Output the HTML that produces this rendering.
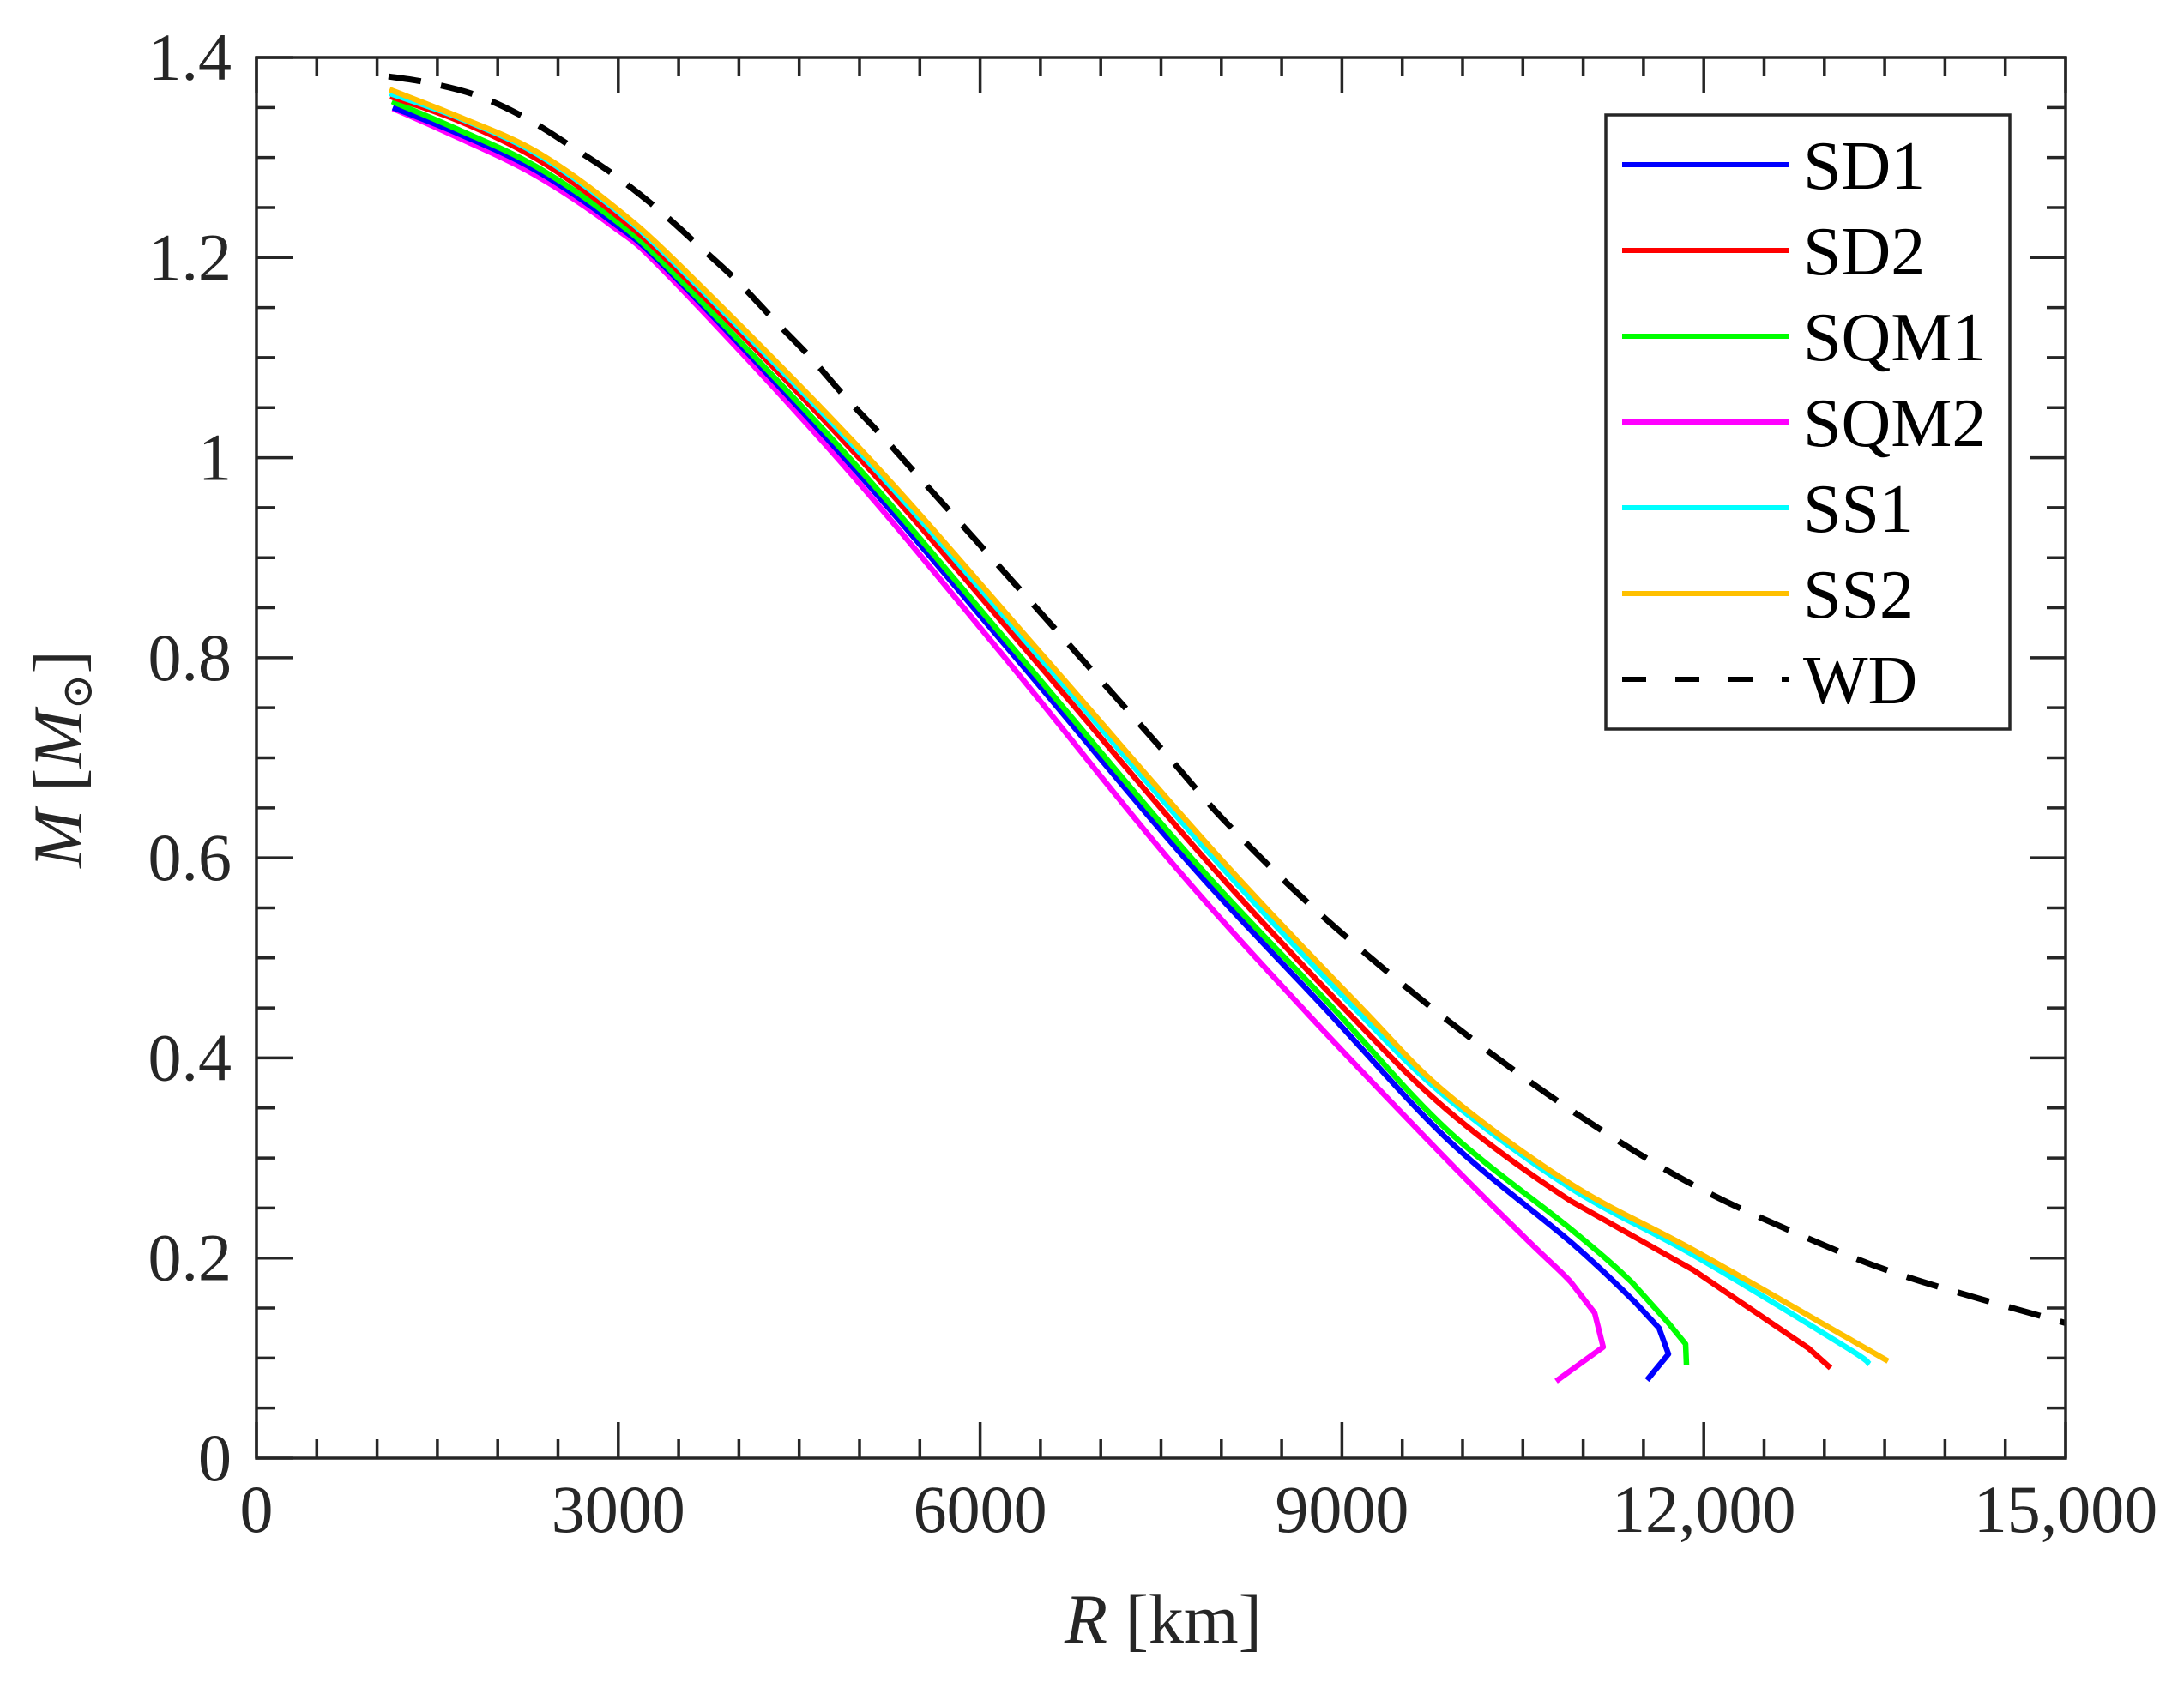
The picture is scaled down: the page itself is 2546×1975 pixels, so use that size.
<!DOCTYPE html>
<html>
<head>
<meta charset="utf-8">
<style>
  html,body{margin:0;padding:0;background:#fff;}
  svg{display:block;}
  text{font-family:"Liberation Serif","DejaVu Serif",serif;}
</style>
</head>
<body>
<svg id="chart" width="2546" height="1975" viewBox="0 0 2546 1975" xmlns="http://www.w3.org/2000/svg">
  <rect x="0" y="0" width="2546" height="1975" fill="#fff"/>
  <g id="series"></g>
  <g id="axes"></g>
  <g id="legend"></g>
  <text x="1356" y="1915" font-size="82" text-anchor="middle" fill="#262626"><tspan font-style="italic">R</tspan> [km]</text>
  <text transform="translate(95,885) rotate(-90)" font-size="82" text-anchor="middle" fill="#262626"><tspan font-style="italic">M</tspan> [<tspan font-style="italic">M</tspan><tspan font-size="50" dy="12">⊙</tspan><tspan dy="-12">]</tspan></text>
</svg>
<script>
const xTicks = [0, 3000, 6000, 9000, 12000, 15000];
const xTickLabels = ["0", "3000", "6000", "9000", "12,000", "15,000"];
const yTicks = [0, 0.2, 0.4, 0.6, 0.8, 1.0, 1.2, 1.4];
const yTickLabels = ["0", "0.2", "0.4", "0.6", "0.8", "1", "1.2", "1.4"];
const seriesNames = ["SD1", "SD2", "SQM1", "SQM2", "SS1", "SS2", "WD"];
const seriesColors = ["#0000ff", "#ff0000", "#00ff00", "#ff00ff", "#00ffff", "#ffc000", "#000000"];

const sd1R = [1131, 1671, 2304, 2944, 3440, 4873, 6296, 7695, 8855, 9872, 10897, 11437, 11629, 11707, 11529];
const sd1M = [1.350, 1.324, 1.288, 1.236, 1.184, 1.0, 0.8, 0.6, 0.45, 0.319, 0.216, 0.155, 0.130, 0.104, 0.078];
const sd2R = [1110, 1671, 2304, 2944, 3518, 4995, 6437, 7856, 9014, 9872, 10897, 11913, 12866, 13051];
const sd2M = [1.361, 1.337, 1.300, 1.246, 1.184, 1.0, 0.8, 0.6, 0.45, 0.348, 0.257, 0.188, 0.110, 0.090];
const sqm1R = [1124, 1671, 2304, 2944, 3460, 4913, 6341, 7750, 8925, 9872, 10897, 11401, 11707, 11849, 11856];
const sqm1M = [1.356, 1.328, 1.292, 1.240, 1.184, 1.0, 0.8, 0.6, 0.45, 0.328, 0.229, 0.176, 0.135, 0.114, 0.093];
const sqm2R = [1131, 1671, 2304, 2944, 3400, 4813, 6206, 7555, 8671, 9872, 10555, 10897, 11095, 11166, 10775];
const sqm2M = [1.349, 1.320, 1.283, 1.232, 1.184, 1.0, 0.8, 0.6, 0.45, 0.298, 0.216, 0.176, 0.145, 0.111, 0.077];
const ss1R = [1106, 1671, 2304, 2944, 3554, 5042, 6496, 7933, 9102, 9872, 10897, 11913, 13165, 13375];
const ss1M = [1.364, 1.340, 1.305, 1.251, 1.184, 1.0, 0.8, 0.6, 0.45, 0.360, 0.270, 0.203, 0.112, 0.094];
const ss2R = [1103, 1671, 2304, 2944, 3578, 5073, 6536, 7985, 9161, 9872, 10897, 11913, 13165, 13528];
const ss2M = [1.368, 1.341, 1.307, 1.253, 1.184, 1.0, 0.8, 0.6, 0.45, 0.364, 0.274, 0.208, 0.122, 0.097];
const wdR = [1095, 1415, 1828, 2240, 2624, 2973, 3322, 3656, 3990, 4289, 4595, 4879, 5192, 5483, 6309, 7468, 8051, 8855, 9872, 10897, 11913, 12937, 13713, 15000];
const wdM = [1.381, 1.375, 1.362, 1.339, 1.310, 1.282, 1.249, 1.213, 1.176, 1.138, 1.100, 1.061, 1.021, 0.982, 0.871, 0.714, 0.634, 0.540, 0.438, 0.348, 0.273, 0.216, 0.180, 0.135];

const NS = "http://www.w3.org/2000/svg";
const PL = 299, PR = 2408, PT = 67, PB = 1700;
const xMin = 0, xMax = 15000, yMin = 0, yMax = 1.4;
function xScale(v){ return PL + (v - xMin) / (xMax - xMin) * (PR - PL); }
function yScale(v){ return PB - (v - yMin) / (yMax - yMin) * (PB - PT); }
function mk(tag, attrs){
  const e = document.createElementNS(NS, tag);
  for (const k in attrs) e.setAttribute(k, attrs[k]);
  return e;
}
function smoothPath(pts, hook){
  let d = "M" + pts[0][0].toFixed(1) + "," + pts[0][1].toFixed(1);
  for (let i = 0; i < pts.length - 1; i++) {
    const p0 = pts[Math.max(0, i - 1)], p1 = pts[i], p2 = pts[i + 1], p3 = pts[Math.min(pts.length - 1, i + 2)];
    const t = (hook && i >= pts.length - 4) ? 0 : 1 / 6;
    const c1x = p1[0] + (p2[0] - p0[0]) * t, c1y = p1[1] + (p2[1] - p0[1]) * t;
    const c2x = p2[0] - (p3[0] - p1[0]) * t, c2y = p2[1] - (p3[1] - p1[1]) * t;
    d += "C" + c1x.toFixed(1) + "," + c1y.toFixed(1) + " " + c2x.toFixed(1) + "," + c2y.toFixed(1) + " " + p2[0].toFixed(1) + "," + p2[1].toFixed(1);
  }
  return d;
}

const seriesR = [sd1R, sd2R, sqm1R, sqm2R, ss1R, ss2R, wdR];
const seriesM = [sd1M, sd2M, sqm1M, sqm2M, ss1M, ss2M, wdM];
const hookSeries = [true, true, true, true, false, false, false];
const sg = document.getElementById("series");
const order = [6, 3, 0, 2, 1, 4, 5];
order.forEach(function(i){
  const rs = seriesR[i], ms = seriesM[i];
  const pts = rs.map(function(r, j){ return [xScale(r), yScale(ms[j])]; });
  const p = mk("path", {d: smoothPath(pts, hookSeries[i]), fill: "none", stroke: seriesColors[i], "stroke-width": i === 6 ? 7 : 6.5, "stroke-linejoin": "round"});
  if (i === 6) p.setAttribute("stroke-dasharray", "38 24");
  
  
  sg.appendChild(p);
});

const ag = document.getElementById("axes");
const box = mk("rect", {x: PL, y: PT, width: PR - PL, height: PB - PT, fill: "none", stroke: "#262626", "stroke-width": 3.5});


ag.appendChild(box);

let tickD = "";
for (let v = 0; v <= 15000; v += 500) {
  const major = v % 3000 === 0;
  const L = major ? 42 : 22;
  const x = xScale(v);
  tickD += "M" + x + "," + PB + "V" + (PB - L) + "M" + x + "," + PT + "V" + (PT + L);
}
for (let k = 0; k <= 28; k++) {
  const v = k * 0.05;
  const major = k % 4 === 0;
  const L = major ? 42 : 22;
  const y = yScale(v);
  tickD += "M" + PL + "," + y + "H" + (PL + L) + "M" + PR + "," + y + "H" + (PR - L);
}
const ticks = mk("path", {d: tickD, stroke: "#262626", "stroke-width": 3.5, fill: "none"});


ag.appendChild(ticks);

xTicks.forEach(function(v, i){
  const t = mk("text", {x: xScale(v), y: 1786, "font-size": 78, "text-anchor": "middle", fill: "#262626"});
  t.textContent = xTickLabels[i];
  
  
  ag.appendChild(t);
});
yTicks.forEach(function(v, i){
  const t = mk("text", {x: 270, y: yScale(v) + 26, "font-size": 78, "text-anchor": "end", fill: "#262626"});
  t.textContent = yTickLabels[i];
  
  
  ag.appendChild(t);
});

const lg = document.getElementById("legend");
const lbox = mk("rect", {x: 1872, y: 134, width: 471, height: 716, fill: "#fff", stroke: "#262626", "stroke-width": 3.5});


lg.appendChild(lbox);
seriesNames.forEach(function(n, i){
  const y = 192 + i * 100;
  const ln = mk("line", {x1: 1891, x2: 2085, y1: y, y2: y, stroke: seriesColors[i], "stroke-width": 6});
  if (i === 6) ln.setAttribute("stroke-dasharray", "28 34");
  
  
  lg.appendChild(ln);
  const t = mk("text", {x: 2102, y: y + 28, "font-size": 80, fill: "#000"});
  t.textContent = n;
  
  
  lg.appendChild(t);
});
</script>
</body>
</html>
